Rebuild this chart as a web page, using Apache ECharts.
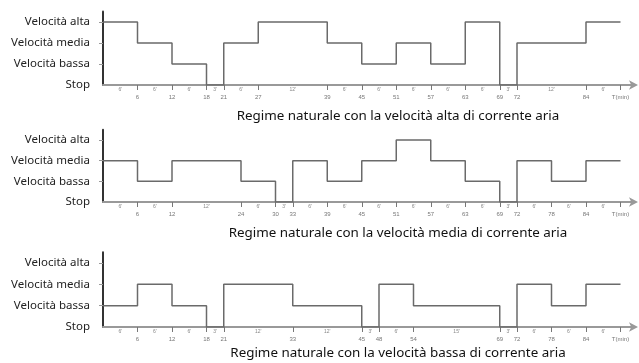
<!DOCTYPE html>
<html>
<head>
<meta charset="utf-8">
<script src="https://cdn.jsdelivr.net/npm/echarts@6/dist/echarts.min.js"></script>
<style>
  html, body { margin: 0; padding: 0; background: #fff; }
  #chart { width: 639px; height: 363px; }
</style>
</head>
<body>
<div id="chart"></div>
<script>
// livelli: 0 = Stop, 1 = bassa, 2 = media, 3 = alta
const levelNames = ['Stop', 'Velocità bassa', 'Velocità media', 'Velocità alta'];

// minuti in cui cambia il regime (tacche sull'asse)
const ticksAlta = [0, 6, 12, 18, 21, 27, 39, 45, 51, 57, 63, 69, 72, 84, 90];
const levelsAlta = [3, 2, 1, 0, 2, 3, 2, 1, 2, 1, 3, 0, 2, 3];

const ticksMedia = [0, 6, 12, 24, 30, 33, 39, 45, 51, 57, 63, 69, 72, 78, 84, 90];
const levelsMedia = [2, 1, 2, 1, 0, 2, 1, 2, 3, 2, 1, 0, 2, 1, 2];

const ticksBassa = [0, 6, 12, 18, 21, 33, 45, 48, 54, 69, 72, 78, 84, 90];
const levelsBassa = [1, 2, 1, 0, 2, 1, 0, 2, 1, 0, 2, 1, 2];

const titles = [
  'Regime naturale con la velocità alta di corrente aria',
  'Regime naturale con la velocità media di corrente aria',
  'Regime naturale con la velocità bassa di corrente aria',
];

const panels = [
  { ticks: ticksAlta, levels: levelsAlta, top: 11.5, height: 73.5, titleTop: 105 },
  { ticks: ticksMedia, levels: levelsMedia, top: 129.7, height: 72.3, titleTop: 222 },
  { ticks: ticksBassa, levels: levelsBassa, top: 252.3, height: 74.7, titleTop: 342 },
];

const grids = [];
const xAxes = [];
const yAxes = [];
const series = [];

panels.forEach((p, i) => {
  grids.push({ left: 103, width: 529, top: p.top, height: p.height });

  const tickVals = p.ticks.slice(1);
  const mids = [];
  const durs = {};
  for (let k = 0; k < p.ticks.length - 1; k++) {
    const m = (p.ticks[k] + p.ticks[k + 1]) / 2;
    mids.push(m);
    durs[m] = p.ticks[k + 1] - p.ticks[k];
  }

  // asse principale con tacche e minuti
  xAxes.push({
    type: 'value', gridIndex: i, min: 0, max: 92,
    splitLine: { show: false },
    axisLine: {
      onZero: false,
      lineStyle: { color: '#999', width: 2 },
      symbol: ['none', 'arrow'], symbolSize: [7, 9], symbolOffset: [0, 6],
    },
    axisTick: { customValues: tickVals, length: 5, lineStyle: { color: '#777' } },
    axisLabel: {
      customValues: tickVals, margin: 9, fontSize: 6, color: '#777',
      formatter: v => (v === 90 ? 'T(min)' : String(v)),
    },
  });
  // durate tra le tacche
  xAxes.push({
    type: 'value', gridIndex: i, min: 0, max: 92, position: 'bottom',
    splitLine: { show: false },
    axisLine: { show: false },
    axisTick: { show: false },
    axisLabel: {
      customValues: mids, margin: 2, fontSize: 5, color: '#888',
      formatter: v => durs[v] + "'",
    },
  });

  yAxes.push({
    type: 'value', gridIndex: i, min: 0, max: 3.5,
    splitLine: { show: false },
    axisLine: { show: true, lineStyle: { color: '#333', width: 2 } },
    axisTick: { show: true, customValues: [1, 2, 3], length: 4, lineStyle: { color: '#999' } },
    axisLabel: {
      customValues: [0, 1, 2, 3], margin: 13, fontSize: 11.5, color: '#222',
      fontFamily: 'Noto Sans',
      formatter: v => levelNames[v],
    },
  });

  const data = p.levels.map((l, k) => [p.ticks[k], l]);
  data.push([p.ticks[p.ticks.length - 1], p.levels[p.levels.length - 1]]);
  series.push({
    type: 'line', step: 'end', xAxisIndex: i * 2, yAxisIndex: i,
    data: data, symbol: 'none',
    lineStyle: { color: '#6a6a6a', width: 1.5 },
  });
});

const chart = echarts.init(document.getElementById('chart'));
chart.setOption({
  animation: false,
  backgroundColor: '#fff',
  title: titles.map((t, i) => ({
    text: t, left: 393, top: panels[i].titleTop, textAlign: 'center',
    textStyle: { fontSize: 13.4, fontWeight: 'normal', color: '#111', fontFamily: 'Noto Sans' },
  })),
  grid: grids,
  xAxis: xAxes,
  yAxis: yAxes,
  series: series,
});
</script>
</body>
</html>
